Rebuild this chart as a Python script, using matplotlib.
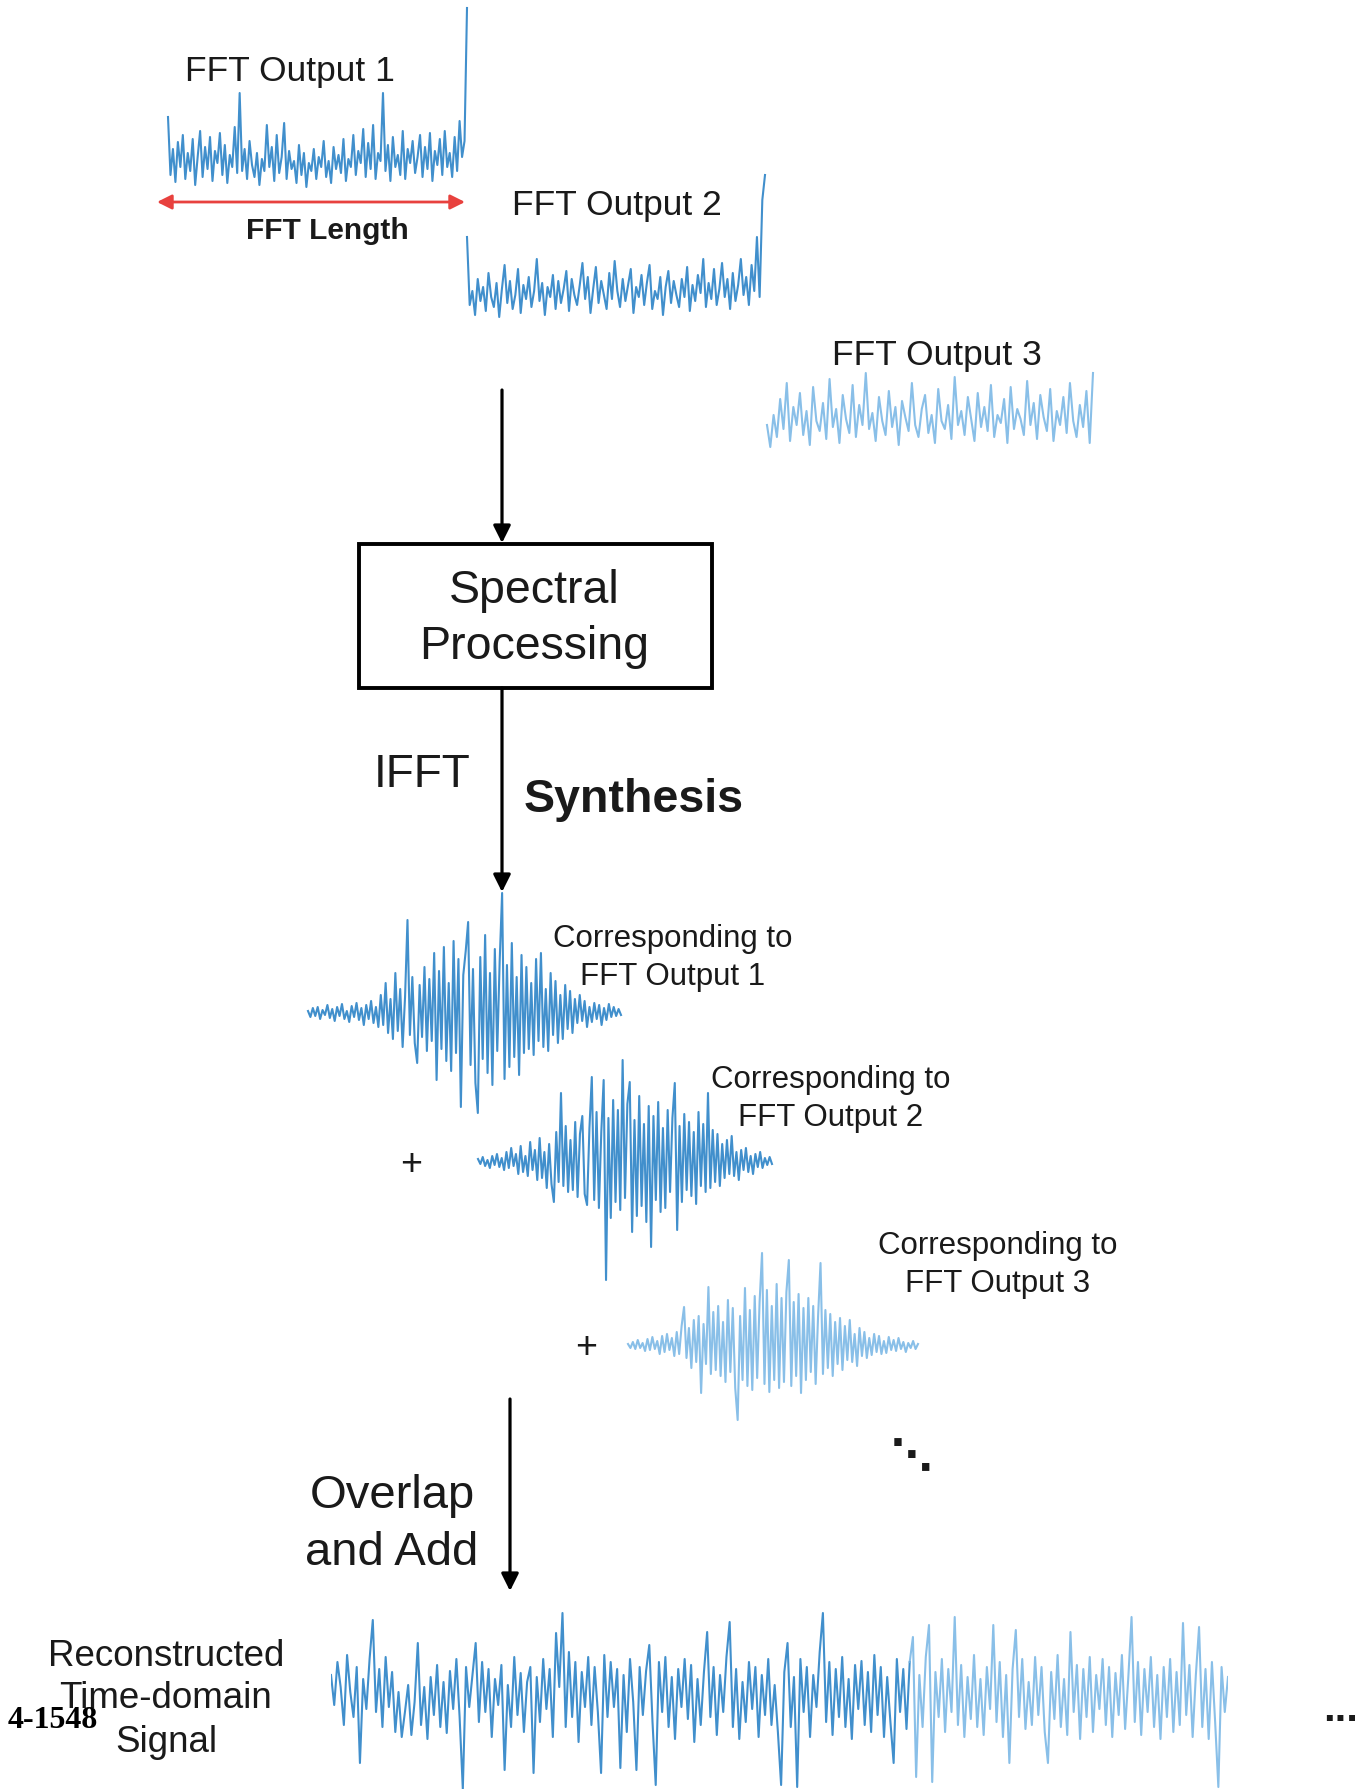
import matplotlib
matplotlib.use("Agg")
import matplotlib.pyplot as plt
from matplotlib.patches import Rectangle

plt.rcParams['font.family'] = ['Liberation Sans', 'DejaVu Sans']

# Figure size in pixels (dpi 100)
W, H = 1372, 1789

# ---- data (heights / amplitudes, in pixels) ----
fft_output_1 = [
    80, 22, 48, 15, 55, 30, 62, 18, 44, 26, 58, 12, 40, 66, 20, 50, 28, 60, 16, 46,
    34, 64, 22, 52, 14, 42, 30, 70, 24, 104, 26, 48, 18, 56, 32, 20, 44, 12, 38, 26,
    72, 30, 50, 16, 62, 24, 40, 74, 18, 46, 28, 36, 14, 52, 22, 44, 10, 34, 26, 48,
    18, 40, 30, 56, 20, 36, 14, 50, 28, 42, 24, 58, 16, 38, 30, 62, 22, 46, 34, 68,
    20, 54, 28, 72, 18, 44, 36, 104, 26, 52, 16, 60, 30, 42, 22, 66, 18, 48, 34, 56,
    24, 40, 62, 20, 50, 28, 64, 16, 46, 32, 58, 22, 66, 30, 44, 20, 60, 26, 76, 40,
    56, 189,
]

fft_output_2 = [
    88, 20, 34, 10, 46, 24, 38, 14, 52, 28, 18, 42, 8, 36, 60, 22, 44, 16, 30, 56,
    12, 40, 26, 48, 18, 34, 66, 24, 42, 10, 38, 28, 50, 16, 44, 22, 36, 54, 14, 46,
    30, 20, 40, 62, 26, 48, 12, 36, 58, 22, 44, 30, 16, 52, 26, 64, 34, 18, 46, 24,
    40, 56, 12, 38, 28, 50, 20, 42, 60, 16, 34, 26, 48, 10, 38, 54, 22, 44, 30, 18,
    46, 28, 58, 14, 40, 24, 50, 32, 66, 18, 42, 26, 56, 20, 36, 62, 28, 46, 16, 52,
    24, 40, 66, 30, 48, 20, 60, 34, 88, 28, 125, 150,
]

fft_output_3 = [
    30, 8, 40, 18, 56, 26, 72, 14, 48, 30, 62, 20, 44, 10, 68, 34, 24, 52, 16, 76,
    28, 46, 12, 60, 36, 22, 70, 18, 50, 30, 82, 26, 42, 14, 58, 34, 20, 64, 28, 48,
    10, 54, 38, 24, 72, 30, 18, 46, 60, 22, 40, 12, 66, 34, 26, 50, 16, 78, 30, 44,
    20, 58, 36, 14, 62, 28, 48, 24, 70, 18, 40, 32, 56, 12, 68, 26, 46, 36, 20, 74,
    30, 52, 16, 60, 38, 24, 66, 14, 44, 30, 58, 22, 72, 34, 18, 50, 28, 64, 12, 82,
]

ifft_frame_1 = [
    2, -4, 5, -3, 6, -6, 3, -2, 8, -5, 4, -8, 6, -3, 9, -6, 2, -9, 7, -4,
    10, -7, 5, -12, 8, -6, 12, -10, 6, -14,
    18, -12, 30, -20, 14, -26, 40, -18, 24, -34, 16, 93, -22, 36, -30, -50, 28, -24, 46, -38,
    34, -28, 60, -67, 42, -36, 66, -48, 30, -58, 72, -40, 54, -94, 38, 62, 91, -52, 44, -70,
    -100, 56, -46, 78, -60, 40, -72, 64, -38, 52, 120, -66, 48, -54, 70, -44, 36, -62, 58, -40,
    46, -36, 30, -42, 54, -28, 60, -34, 24, -38, 40, -22, 32, -30, 18, -26, 28, -16, 22, -20,
    14, -10, 18, -8, 12, -14, 6, -9, 10, -6, 8, -12, 5, -7, 9, -4, 6, -3, 4, -2,
]

ifft_frame_2 = [
    3, -2, 5, -4, 2, -6, 6, -3, 8, -5, 4, -8, 10, -6, 14, -4, 8, -12, 16, -10,
    6, -14, 20, -8, 12, -18, 24, -16, 10, -26, 18, -22, -40, 30, -20, 69, -24, 36, -30, 22,
    -28, 40, -35, 28, 46, -32, -43, 34, 85, -38, 50, -46, 30, 82, -118, 44, -56, 62, -40, 52,
    -48, 102, -36, 58, 80, -70, 42, -54, 66, -44, 38, -60, 56, -85, 46, -38, 60, -50, 34, -46,
    52, -30, 44, 79, -68, 36, -40, 48, -28, 40, -34, 30, -42, 50, -24, 38, -30, 69, -26, 32,
    -20, 28, -24, 18, -16, 22, -12, 26, -14, 10, -18, 12, -8, 14, -10, 6, -12, 8, -5, 10,
    -6, 4, -3, 5, -2,
]

ifft_frame_3 = [
    2, -2, 4, -3, 6, -2, 3, -5, 7, -4, 9, -3, 5, -8, 10, -6, 12, -4, 8, -10,
    14, -8, 20, 39, -12, 18, -22, 26, -16, 30, -47, 22, -18, 59, -28, 34, -24, 40, -30, 24,
    -36, 46, -26, 38, -42, -74, 30, -34, 58, -40, 36, -44, 50, -32, 44, 93, -38, 56, -46, 40,
    -34, 62, -42, 48, -36, 54, 86, -40, 44, -30, 52, -47, 38, -34, 48, -26, 40, -38, 30, 83,
    -28, 36, -22, 32, -30, 24, -18, 28, -24, 20, -14, 26, -16, 12, -20, 18, -10, 14, -12, 8,
    -9, 12, -6, 10, -8, 5, -7, 9, -4, 6, -5, 8, -3, 4, -6, 3, -2, 5, -3, 2,
]

reconstructed = [
    22, -8, 35, 10, -28, 42, 5, -20, 30, -66, 18, -12, 38, 77, -15, 28, -30, 40, -10, 25,
    -35, 5, -40, -15, 12, -38, -5, 54, -28, 10, -42, 20, -18, 32, -30, 15, -36, 26, -12, 38,
    -20, -92, 30, -10, 22, 54, -25, 35, -15, 28, -40, 18, -8, 32, -73, 12, -30, 40, -18, 24,
    -35, 15, 30, -76, 20, -25, 38, -12, 28, -40, 64, 10, 84, -30, 45, -20, 35, -45, 25, -10,
    40, -28, 30, -15, -76, 42, -20, 35, -10, 28, -71, 22, -35, 38, -5, -73, 30, -18, 26, 52,
    -25, -88, 35, -15, 40, -30, 20, -42, 28, -10, 38, -22, 32, -45, 18, -28, 25, 65, -20, 30,
    -38, 22, -15, 40, 75, -30, 28, -42, 15, -25, 35, -12, 30, -40, 22, -18, 38, -28, 12, -35,
    -88, 25, 54, -30, 20, -90, 38, -15, 30, -40, 22, -10, 45, 84, -25, 35, -38, 28, -20, 40,
    -30, 18, -42, 32, -12, 36, -28, 25, -35, 42, -18, 30, -40, 20, -25, -66, 38, -15, 28, -32,
    35, 60, -80, 22, -30, 40, 72, -85, 25, -20, 38, -35, 28, -15, 80, -28, 32, -40, 20, -22,
    42, -30, 18, -38, 30, -12, 72, -25, 35, -40, 22, -66, 28, 67, -20, 38, -32, 15, -28, 40,
    -18, 30, -35, -66, 25, -22, 42, -30, 18, -38, 65, -15, 32, -42, 28, -20, 40, -35, 22, -12,
    38, -28, 30, -40, 24, -18, 42, -32, 20, 80, -25, 35, -38, 28, -15, 40, -30, 22, -42, 30,
    -20, 38, -35, 25, -28, 74, -18, 32, -40, 22, 70, -30, 28, -42, 35, -25, -90, 30, -15, 20,
]
# samples after this index belong to the third (lighter) frame
recon_light_start = 180

fft_labels = ["FFT Output 1", "FFT Output 2", "FFT Output 3"]

BLUE = '#1f7cc4'
LIGHT_BLUE = '#74b4e4'
TEXT = '#1a1a1a'
LW = 1.5


def px_axes(fig, x0, y0, x1, y1):
    """Axes placed by pixel box (top-left origin)"""
    ax = fig.add_axes([x0 / W, 1 - y1 / H, (x1 - x0) / W, (y1 - y0) / H])
    ax.set_axis_off()
    return ax


def draw_spectrum(fig, values, x0, x1, baseline, top, color):
    ax = px_axes(fig, x0, top, x1, baseline)
    ax.plot(range(len(values)), values, color=color, lw=LW, alpha=0.85, clip_on=False)
    ax.set_xlim(0, len(values) - 1)
    ax.set_ylim(0, baseline - top)


def draw_frame(fig, values, x0, x1, center, half, color):
    ax = px_axes(fig, x0, center - half, x1, center + half)
    ax.plot(range(len(values)), values, color=color, lw=LW, alpha=0.85, clip_on=False)
    ax.set_xlim(0, len(values) - 1)
    ax.set_ylim(-half, half)
    return ax


fig = plt.figure(figsize=(W / 100, H / 100), dpi=100)

# background axes in pixel coordinates for text, arrows and the box
bg = fig.add_axes([0, 0, 1, 1])
bg.set_xlim(0, W)
bg.set_ylim(H, 0)
bg.set_axis_off()

# FFT outputs
draw_spectrum(fig, fft_output_1, 168, 467, 197, 8, BLUE)
draw_spectrum(fig, fft_output_2, 467, 765, 325, 175, BLUE)
draw_spectrum(fig, fft_output_3, 767, 1093, 455, 373, LIGHT_BLUE)

bg.text(290, 72, fft_labels[0], fontsize=25.5, ha='center', va='center', color=TEXT)
bg.text(617, 206, fft_labels[1], fontsize=25.5, ha='center', va='center', color=TEXT)
bg.text(937, 355, fft_labels[2], fontsize=25.5, ha='center', va='center', color=TEXT)

# FFT length marker
bg.annotate('', xy=(465, 202), xytext=(157, 202),
            arrowprops=dict(arrowstyle='<|-|>', color='#e8413e', lw=2,
                            mutation_scale=22, shrinkA=0, shrinkB=0))
bg.text(327, 231, "FFT Length", fontsize=21.5, fontweight='bold',
        ha='center', va='center', color=TEXT)

# arrow into the processing block
arrow = dict(arrowstyle='-|>', color='black', lw=2.3, mutation_scale=26,
             shrinkA=0, shrinkB=0)
bg.annotate('', xy=(502, 543), xytext=(502, 390), arrowprops=arrow)

bg.add_patch(Rectangle((359, 544), 353, 144, fill=False, lw=2.8, edgecolor='black'))
bg.text(534, 591, "Spectral", fontsize=33.5, ha='center', va='center', color=TEXT)
bg.text(534, 647, "Processing", fontsize=33.5, ha='center', va='center', color=TEXT)

# IFFT / synthesis
bg.annotate('', xy=(502, 892), xytext=(502, 688), arrowprops=arrow)
bg.text(422, 775, "IFFT", fontsize=33, ha='center', va='center', color=TEXT)
bg.text(634, 800, "Synthesis", fontsize=33.5, fontweight='bold',
        ha='center', va='center', color=TEXT)

# time-domain frames
draw_frame(fig, ifft_frame_1, 308, 621, 1013, 125, BLUE)
draw_frame(fig, ifft_frame_2, 478, 772, 1162, 125, BLUE)
draw_frame(fig, ifft_frame_3, 628, 918, 1346, 100, LIGHT_BLUE)

for (cx, cy), lab in zip([(673, 939), (831, 1080), (998, 1246)], fft_labels):
    bg.text(cx, cy, "Corresponding to", fontsize=22.5, ha='center', va='center', color=TEXT)
    bg.text(cx, cy + 38, lab, fontsize=22.5, ha='center', va='center', color=TEXT)

bg.text(411, 1165, "+", fontsize=27, ha='center', va='center', color=TEXT)
bg.text(586, 1348, "+", fontsize=27, ha='center', va='center', color=TEXT)
bg.text(911, 1457, "\u22f1", fontsize=30, fontweight='bold', ha='center', va='center',
        color=TEXT, family='DejaVu Sans')

# overlap-add
bg.annotate('', xy=(510, 1591), xytext=(510, 1399), arrowprops=arrow)
bg.text(392, 1496, "Overlap", fontsize=34, ha='center', va='center', color=TEXT)
bg.text(392, 1553, "and Add", fontsize=34, ha='center', va='center', color=TEXT)

# reconstructed signal
n = len(reconstructed)
rax = px_axes(fig, 331, 1605, 1228, 1789)
rax.plot(range(recon_light_start + 1), reconstructed[:recon_light_start + 1],
         color=BLUE, lw=LW, alpha=0.85)
rax.plot(range(recon_light_start, n), reconstructed[recon_light_start:],
         color=LIGHT_BLUE, lw=LW, alpha=0.85)
rax.set_xlim(0, n - 1)
rax.set_ylim(-92, 92)

bg.text(166, 1656, "Reconstructed", fontsize=26.5, ha='center', va='center', color=TEXT)
bg.text(166, 1699, "Time-domain", fontsize=26.5, ha='center', va='center', color=TEXT)
bg.text(166, 1743, "Signal", fontsize=26.5, ha='center', va='center', color=TEXT)
bg.text(1341, 1710, "...", fontsize=30, fontweight='bold', ha='center', va='center', color=TEXT)

# stray label that sits on top of "Time-domain" in the original
bg.text(8, 1721, "4-1548", fontsize=23, fontweight='bold', ha='left', va='center',
        color='black', family=['Liberation Serif', 'DejaVu Serif'])

plt.savefig('out.png', dpi=100)
